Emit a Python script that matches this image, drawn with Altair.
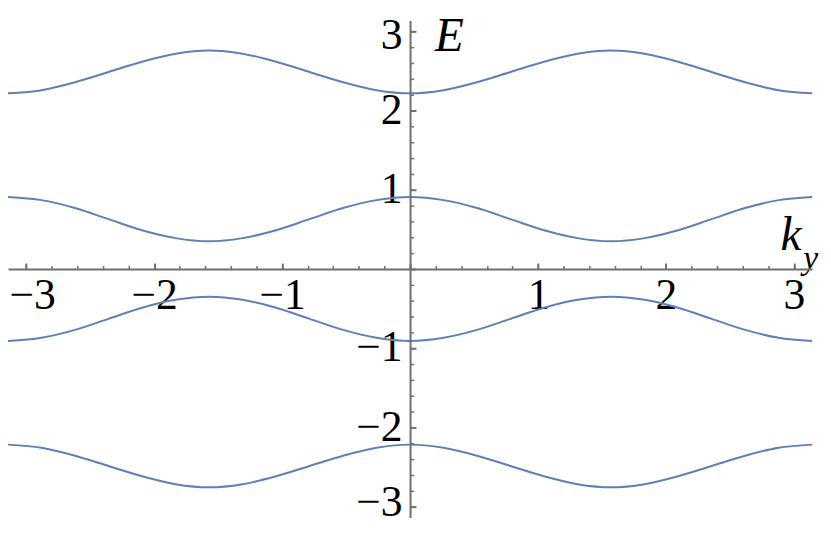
import altair as alt
import pandas as pd

# k_y sample points (steps of pi/12 from -pi to pi)
k_vals = [-3.1416, -2.8798, -2.6180, -2.3562, -2.0944, -1.8326, -1.5708, -1.3090,
          -1.0472, -0.7854, -0.5236, -0.2618, 0.0, 0.2618, 0.5236, 0.7854,
          1.0472, 1.3090, 1.5708, 1.8326, 2.0944, 2.3562, 2.6180, 2.8798, 3.1416]

band1 = [2.22, 2.26, 2.36, 2.49, 2.62, 2.72, 2.76, 2.72, 2.62, 2.49, 2.36, 2.26, 2.22,
         2.26, 2.36, 2.49, 2.62, 2.72, 2.76, 2.72, 2.62, 2.49, 2.36, 2.26, 2.22]
band2 = [0.91, 0.87, 0.77, 0.63, 0.49, 0.39, 0.35, 0.39, 0.49, 0.63, 0.77, 0.87, 0.91,
         0.87, 0.77, 0.63, 0.49, 0.39, 0.35, 0.39, 0.49, 0.63, 0.77, 0.87, 0.91]
band3 = [-0.91, -0.87, -0.77, -0.63, -0.49, -0.39, -0.35, -0.39, -0.49, -0.63, -0.77, -0.87, -0.91,
         -0.87, -0.77, -0.63, -0.49, -0.39, -0.35, -0.39, -0.49, -0.63, -0.77, -0.87, -0.91]
band4 = [-2.22, -2.26, -2.36, -2.49, -2.62, -2.72, -2.76, -2.72, -2.62, -2.49, -2.36, -2.26, -2.22,
         -2.26, -2.36, -2.49, -2.62, -2.72, -2.76, -2.72, -2.62, -2.49, -2.36, -2.26, -2.22]

major_ticks = [-3, -2, -1, 0, 1, 2, 3]
label_ticks = [-3, -2, -1, 1, 2, 3]
minor_ticks = [-3.0, -2.8, -2.6, -2.4, -2.2, -2.0, -1.8, -1.6, -1.4, -1.2, -1.0,
               -0.8, -0.6, -0.4, -0.2, 0.0, 0.2, 0.4, 0.6, 0.8, 1.0, 1.2, 1.4,
               1.6, 1.8, 2.0, 2.2, 2.4, 2.6, 2.8, 3.0]

rows = []
for name, vals in [("b1", band1), ("b2", band2), ("b3", band3), ("b4", band4)]:
    for k, e in zip(k_vals, vals):
        rows.append({"k": k, "E": e, "band": name})
df = pd.DataFrame(rows)

W, H = 812, 502
X0 = 406   # pixel of k=0 in plot
Y0 = 251   # pixel of E=0 in plot
AX = "#6f6f6f"
FONT = "Liberation Serif"
LINE = "#5E81B5"
LFS = 44

xs = alt.Scale(domain=[-3.14159, 3.14159], nice=False, zero=False)
ys = alt.Scale(domain=[-3.14159, 3.14159], nice=False, zero=False)

base = alt.Chart(df)

lines = base.mark_line(color=LINE, strokeWidth=2, interpolate="monotone").encode(
    x=alt.X("k:Q", scale=xs, axis=alt.Axis(
        orient="top", offset=-Y0, values=major_ticks, labels=False, title=None,
        grid=False, domain=True, domainColor=AX, domainWidth=2,
        tickColor=AX, tickSize=6, tickWidth=2, zindex=1)),
    y=alt.Y("E:Q", scale=ys, axis=alt.Axis(
        orient="right", offset=-(W - X0), values=major_ticks, labels=False, title=None,
        grid=False, domain=True, domainColor=AX, domainWidth=2,
        tickColor=AX, tickSize=6, tickWidth=2, zindex=1)),
    detail="band:N",
)

minor = base.mark_line(opacity=0).encode(
    x=alt.X("k:Q", scale=xs, axis=alt.Axis(
        orient="top", offset=-Y0, values=minor_ticks, labels=False, title=None,
        grid=False, domain=False, tickColor=AX, tickSize=3.5, tickWidth=1.5, zindex=1)),
    y=alt.Y("E:Q", scale=ys, axis=alt.Axis(
        orient="right", offset=-(W - X0), values=minor_ticks, labels=False, title=None,
        grid=False, domain=False, tickColor=AX, tickSize=3.5, tickWidth=1.5, zindex=1)),
    detail="band:N",
)

x_lab_offset = {"condition": {"test": "datum.value == -3", "value": 6}, "value": 0}
y_lab_offset = {"condition": [{"test": "datum.value == 3", "value": 4},
                              {"test": "datum.value == -3", "value": -4}], "value": 0}

labels = base.mark_line(opacity=0).encode(
    x=alt.X("k:Q", scale=xs, axis=alt.Axis(
        orient="bottom", offset=-(H - Y0), values=label_ticks, ticks=False, domain=False,
        grid=False, title=None, labelFont=FONT, labelFontSize=LFS, labelColor="black",
        labelPadding=5, labelFlush=False, labelOverlap=False, format="d",
        labelOffset=x_lab_offset)),
    y=alt.Y("E:Q", scale=ys, axis=alt.Axis(
        orient="left", offset=-X0, values=label_ticks, ticks=False, domain=False,
        grid=False, title=None, labelFont=FONT, labelFontSize=LFS, labelColor="black",
        labelPadding=8, labelFlush=False, labelOverlap=False, format="d",
        labelOffset=y_lab_offset)),
    detail="band:N",
)

e_title = alt.Chart(pd.DataFrame({"t": ["E"]})).mark_text(
    font=FONT, fontStyle="italic", fontSize=48, align="left", baseline="alphabetic",
    color="black").encode(x=alt.value(431), y=alt.value(31), text="t:N")
k_title = alt.Chart(pd.DataFrame({"t": ["k"]})).mark_text(
    font=FONT, fontStyle="italic", fontSize=48, align="left", baseline="alphabetic",
    color="black").encode(x=alt.value(780), y=alt.value(232), text="t:N")
y_sub = alt.Chart(pd.DataFrame({"t": ["y"]})).mark_text(
    font=FONT, fontStyle="italic", fontSize=34, align="left", baseline="alphabetic",
    color="black").encode(x=alt.value(803), y=alt.value(251), text="t:N")

chart = alt.layer(lines, minor, labels, e_title, k_title, y_sub).resolve_axis(
    x="independent", y="independent"
).properties(
    width=W, height=H,
    autosize=alt.AutoSizeParams(type="none"),
    padding={"left": 0, "top": 10, "right": 11, "bottom": 6},
).configure_view(stroke=None)

chart.save("out.html", embed_options={"renderer": "svg", "actions": False})
